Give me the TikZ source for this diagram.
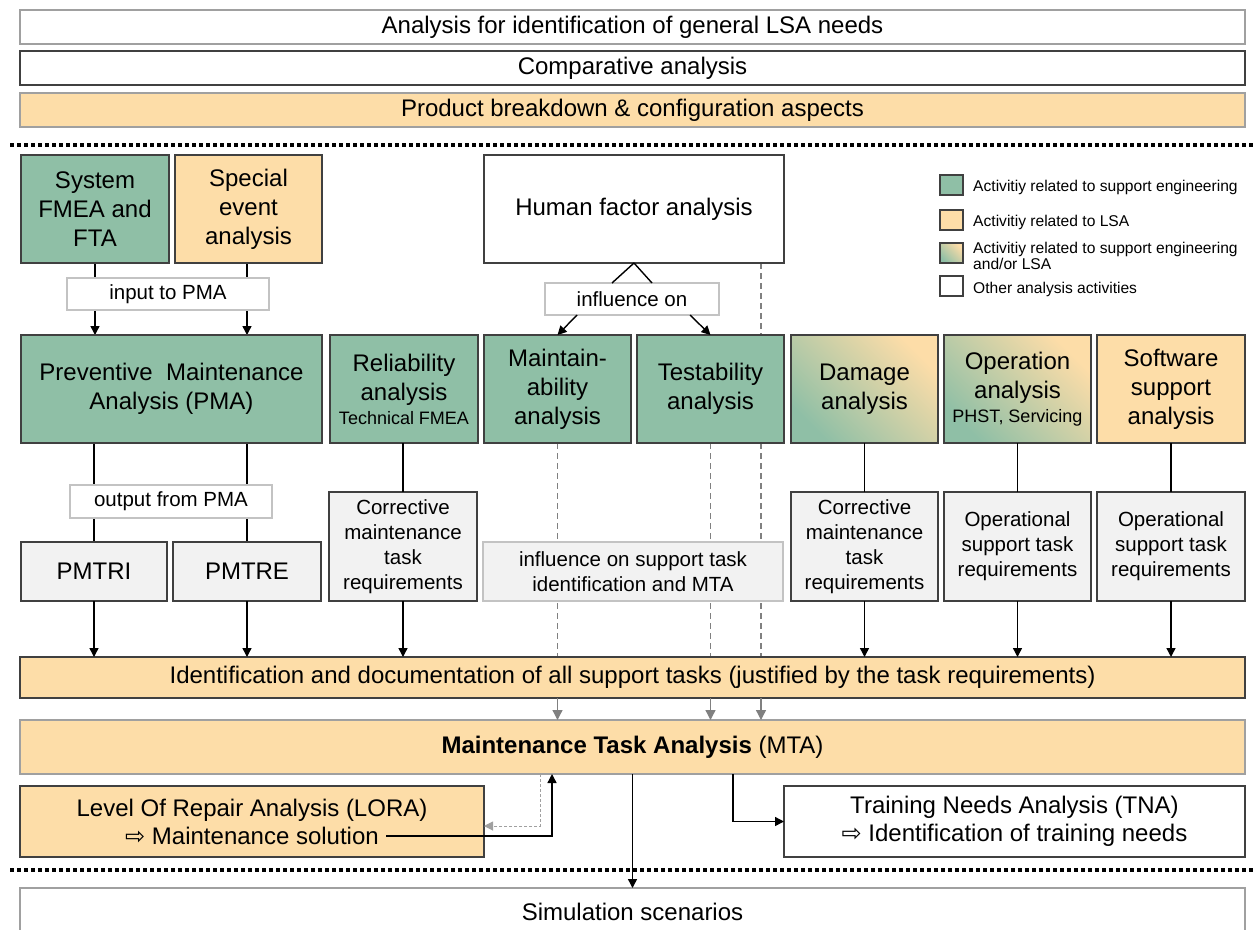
\documentclass[tikz,border=0pt]{standalone}
\usepackage{fontspec}
\setmainfont{Liberation Sans}
\newfontfamily\symfont{DejaVu Sans}
\usetikzlibrary{arrows.meta,calc,backgrounds}

\definecolor{sgreen}{RGB}{143,191,166}
\definecolor{sorange}{RGB}{253,221,168}
\definecolor{sgray}{RGB}{242,242,242}
\definecolor{edgedark}{RGB}{64,64,64}
\definecolor{edgemid}{RGB}{160,160,160}
\definecolor{edgelight}{RGB}{195,195,195}
\definecolor{dashgray}{RGB}{128,128,128}

\tikzset{
  box/.style={rectangle, inner sep=0pt, outer sep=0pt, align=center,
    line width=1.2pt, draw=edgedark},
  big/.style={font=\fontsize{24}{29}\selectfont},
  mid/.style={font=\fontsize{20.5}{25}\selectfont},
  greenbox/.style={box, big, fill=sgreen},
  orangebox/.style={box, big, fill=sorange},
  mixbox/.style={box, big, bottom color=sgreen, top color=sorange, shading angle=-45},
  whitebox/.style={box, big, fill=white},
  reqbox/.style={box, mid, fill=sgray},
  labelbox/.style={box, mid, fill=white, draw=edgelight},
  legsq/.style={box, minimum width=23, minimum height=20},
  legtext/.style={anchor=west, inner sep=0pt, align=left,
    font=\fontsize{15.6}{16}\selectfont},
  ln/.style={line width=1.4pt, draw=black},
  arr/.style={ln, -{Triangle[length=9pt,width=9pt]}},
  infl/.style={line width=1.3pt, draw=dashgray, dash pattern=on 6pt off 4pt},
  inflarr/.style={infl, -{Triangle[length=10pt,width=10pt,fill=dashgray]}},
  sep/.style={line width=3.5pt, dash pattern=on 3.5pt off 3.5pt},
}

\begin{document}
\begin{tikzpicture}[x=1pt,y=-1pt]
\useasboundingbox (0,0) rectangle (1255,929);

% general analyses
\node[whitebox, draw=edgemid, minimum width=1225, minimum height=34] (needs) at (632.5,27)
  {Analysis for identification of general LSA needs};
\node[whitebox, minimum width=1225, minimum height=34] (comp) at (632.5,68)
  {Comparative analysis};
\node[orangebox, draw=edgemid, minimum width=1225, minimum height=34] (prod) at (632.5,110)
  {Product breakdown \& configuration aspects};

\draw[sep] (10,145) -- (1255,145);

% input analyses
\node[greenbox, minimum width=148, minimum height=108] (sys) at (95,209)
  {System\\FMEA and\\FTA};
\node[orangebox, minimum width=147, minimum height=108] (spec) at (248.5,209)
  {Special\\event\\analysis};
\node[whitebox, minimum width=300, minimum height=108] (hf) at (634,209)
  {Human factor analysis};

% legend
\node[legsq, fill=sgreen] (lg1) at (951.5,185) {};
\node[legsq, fill=sorange] (lg2) at (951.5,220) {};
\node[legsq, bottom color=sgreen, top color=sorange, shading angle=-45] (lg3) at (951.5,253) {};
\node[legsq, fill=white] (lg4) at (951.5,286) {};
\node[legtext] (lt1) at (973,187) {Activitiy related to support engineering};
\node[legtext] (lt2) at (973,222) {Activitiy related to LSA};
\node[legtext] (lt3) at (973,256) {Activitiy related to support engineering\\and/or LSA};
\node[legtext] (lt4) at (973,289) {Other analysis activities};

% labels on connectors
\node[labelbox, minimum width=202, minimum height=32] (inp) at (168,294) {input to PMA};
\node[labelbox, minimum width=174, minimum height=32] (infl) at (632,299) {influence on};

% analysis row
\node[greenbox, minimum width=301, minimum height=108] (pma) at (171.5,389)
  {Preventive~ Maintenance\\Analysis (PMA)};
\node[greenbox, minimum width=148, minimum height=108] (rel) at (404,389)
  {Reliability\\analysis\\[-5pt]{\fontsize{18}{21}\selectfont Technical FMEA}};
\node[greenbox, minimum width=147, minimum height=108] (maint) at (557.5,389)
  {Maintain-\\ability\\analysis};
\node[greenbox, minimum width=147, minimum height=108] (test) at (710.5,389)
  {Testability\\analysis};
\node[mixbox, minimum width=147, minimum height=108] (dam) at (864.5,389)
  {Damage\\analysis};
\node[mixbox, minimum width=147, minimum height=108] (op) at (1017.5,389)
  {Operation\\analysis\\[-5pt]{\fontsize{18}{21}\selectfont PHST, Servicing}};
\node[orangebox, minimum width=148, minimum height=108] (sw) at (1171,389)
  {Software\\support\\analysis};

% requirements row
\node[labelbox, minimum width=202, minimum height=33] (outp) at (171,501.5) {output from PMA};
\node[reqbox, big, minimum width=146, minimum height=59] (pmtri) at (94,571.5) {PMTRI};
\node[reqbox, big, minimum width=148, minimum height=59] (pmtre) at (247,571.5) {PMTRE};
\node[reqbox, minimum width=148, minimum height=109] (cor1) at (403,546.5)
  {Corrective\\maintenance\\task\\requirements};
\node[reqbox, draw=edgelight, minimum width=300, minimum height=59] (infsup) at (633,571.5)
  {influence on support task\\identification and MTA};
\node[reqbox, minimum width=147, minimum height=109] (cor2) at (864.5,546.5)
  {Corrective\\maintenance\\task\\requirements};
\node[reqbox, minimum width=147, minimum height=109] (opreq) at (1017.5,546.5)
  {Operational\\support task\\requirements};
\node[reqbox, minimum width=148, minimum height=109] (swreq) at (1171,546.5)
  {Operational\\support task\\requirements};

% task identification and MTA
\node[orangebox, minimum width=1225, minimum height=41] (ident) at (632.5,677.5)
  {Identification and documentation of all support tasks (justified by the task requirements)};
\node[orangebox, draw=edgemid, minimum width=1225, minimum height=54] (mta) at (632.5,747)
  {\textbf{Maintenance Task Analysis} (MTA)};
\node[orangebox, minimum width=464, minimum height=71, font=\fontsize{24}{28}\selectfont] (lora) at (252,821.5)
  {Level Of Repair Analysis (LORA)\\{\symfont ⇨} Maintenance solution};
\node[whitebox, minimum width=461, minimum height=71, font=\fontsize{24}{28}\selectfont] (tna) at (1014.5,821.5)
  {Training Needs Analysis (TNA)\\{\symfont ⇨} Identification of training needs};
\coordinate (loraout) at (386,836);

\draw[sep] (10,870) -- (1255,870);
\node[whitebox, draw=edgemid, minimum width=1225, minimum height=47] (sim) at (632.5,911.5)
  {Simulation scenarios};

% connectors running behind the label boxes
\begin{scope}[on background layer]
  \fill[white] (0,0) rectangle (1255,929);
  \draw[arr] (sys.south) -- (sys.south |- pma.north);
  \draw[arr] ($(spec.south)+(-1.5,0)$) -- ($(spec.south |- pma.north)+(-1.5,0)$);
  \draw[ln] (pmtri.north |- pma.south) -- (pmtri.north);
  \draw[ln] (pmtre.north |- pma.south) -- (pmtre.north);
  \draw[infl] ($(hf.south)+(127,0)$) -- ($(hf.south |- mta.north)+(127,-10)$);
  \draw[infl] (maint.south) -- ($(maint.south |- mta.north)+(0,-10)$);
  \draw[infl] (test.south) -- ($(test.south |- mta.north)+(0,-10)$);
\end{scope}
\draw[inflarr] ($(hf.south |- ident.south)+(127,0)$) -- ($(hf.south |- mta.north)+(127,0)$);
\draw[inflarr] (maint.south |- ident.south) -- (maint.south |- mta.north);
\draw[inflarr] (test.south |- ident.south) -- (test.south |- mta.north);

% human factor influence
\draw[ln] (hf.south) -- ($(infl.north)+(-20,0)$);
\draw[ln] (hf.south) -- ($(infl.north)+(20,0)$);
\draw[arr] ($(infl.south)+(-55,0)$) -- (maint.north);
\draw[arr] ($(infl.south)+(58,0)$) -- (test.north);

% analyses to task requirements
\draw[ln] (cor1.north |- rel.south) -- (cor1.north);
\draw[ln] (dam.south) -- (cor2.north);
\draw[ln] (op.south) -- (opreq.north);
\draw[ln] (sw.south) -- (swreq.north);

% task requirements to task identification
\draw[arr] (pmtri.south) -- (pmtri.south |- ident.north);
\draw[arr] (pmtre.south) -- (pmtre.south |- ident.north);
\draw[arr] (cor1.south) -- (cor1.south |- ident.north);
\draw[arr] (cor2.south) -- (cor2.south |- ident.north);
\draw[arr] (opreq.south) -- (opreq.south |- ident.north);
\draw[arr] (swreq.south) -- (swreq.south |- ident.north);

% MTA outputs
\draw[line width=1pt, draw=edgemid, dash pattern=on 3pt off 2pt,
  -{Triangle[length=9pt,width=9pt,fill=edgemid]}]
  ($(mta.south)+(-92.5,0)$) |- ($(lora.east)+(0,4.5)$);
\draw[arr] (loraout) -| ($(mta.south)+(-80.5,0)$);
\draw[arr] ($(mta.south)+(100.5,0)$) |- (tna.west);
\draw[arr] (mta.south) -- (sim.north);
\end{tikzpicture}
\end{document}
